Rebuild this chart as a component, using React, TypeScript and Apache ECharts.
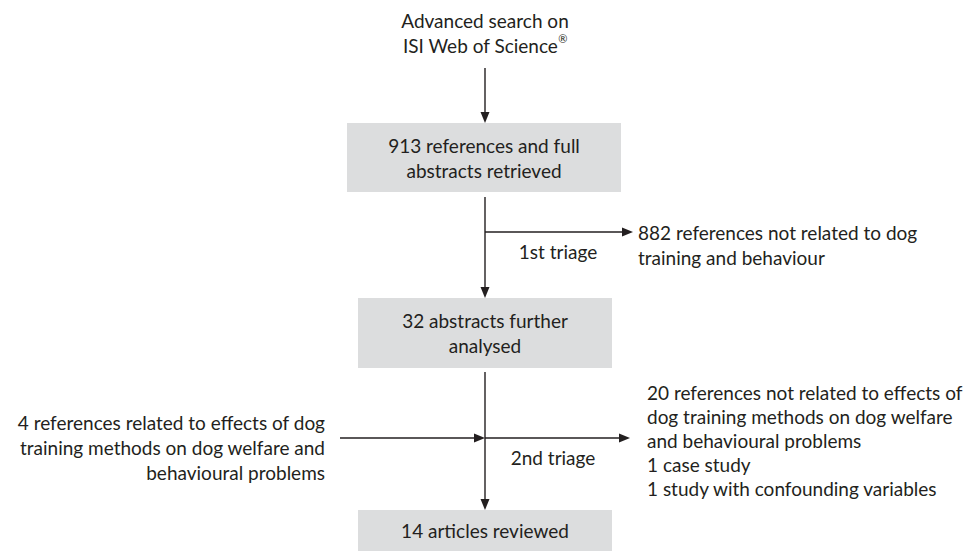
import React, { useEffect, useRef } from "react";
import * as echarts from "echarts";

// ---- chart content (texts) ----
const sourceLabel = "Advanced search on\nISI Web of Science{sup|®}";
const boxLabels = [
  "913 references and full\nabstracts retrieved",
  "32 abstracts further\nanalysed",
  "14 articles reviewed",
];
const triageLabels = ["1st triage", "2nd triage"];
const excludedNotes = [
  "882 references not related to dog\ntraining and behaviour",
  "20 references not related to effects of\ndog training methods on dog welfare\nand behavioural problems\n1 case study\n1 study with confounding variables",
];
const addedNote =
  "4 references related to effects of dog\ntraining methods on dog welfare and\nbehavioural problems";

// ---- layout (page coordinates on a hidden 971 x 551 grid) ----
const W = 971;
const H = 551;
const boxLayout = [
  [347, 123, 621, 192],
  [358, 298, 612, 368],
  [358, 510, 612, 551],
];
const arrowLayout = [
  [485, 68, 485, 123],
  [485, 197, 485, 298],
  [485, 232, 633, 232],
  [485, 372, 485, 510],
  [340, 438, 485, 438],
  [485, 438, 630, 438],
];

const FONT_FAMILY = "Lato, 'Open Sans', sans-serif";
const FONT_SIZE = 19;
const LINE_H = 25;
const TEXT_COLOR = "#231f20";
const BOX_COLOR = "#dcddde";

type Note = { x: number; y: number; align: string; text: string; lh?: number };
const notes: Note[] = [
  { x: 485, y: 33, align: "center", text: sourceLabel },
  { x: 558, y: 251, align: "center", text: triageLabels[0] },
  { x: 638, y: 245, align: "left", text: excludedNotes[0] },
  { x: 553, y: 457, align: "center", text: triageLabels[1] },
  { x: 325, y: 447, align: "right", text: addedNote },
  { x: 647, y: 440, align: "left", text: excludedNotes[1], lh: 24 },
];

export default function App() {
  const ref = useRef<HTMLDivElement>(null);
  useEffect(() => {
    document.body.style.margin = "0";
    const chart = echarts.init(ref.current!, null, { renderer: "svg" });
    const textStyle = (text: string, x: number, y: number, align: string, lh = LINE_H) => ({
      text,
      x,
      y,
      align,
      verticalAlign: "middle",
      fontSize: FONT_SIZE,
      fontFamily: FONT_FAMILY,
      lineHeight: lh,
      fill: TEXT_COLOR,
      rich: {
        sup: {
          fontSize: 11,
          fontFamily: FONT_FAMILY,
          fill: TEXT_COLOR,
          verticalAlign: "top",
          padding: [0, 0, 8, 0],
          lineHeight: lh,
        },
      },
    });
    chart.setOption({
      animation: false,
      backgroundColor: "#ffffff",
      grid: { left: 0, right: 0, top: 0, bottom: 0 },
      xAxis: { type: "value", min: 0, max: W, show: false },
      yAxis: { type: "value", min: 0, max: H, inverse: true, show: false },
      series: [
        {
          type: "custom",
          name: "boxes",
          clip: false,
          data: boxLayout.map((b, i) => [...b, i]),
          renderItem: (_p: any, api: any) => {
            const a = api.coord([api.value(0), api.value(1)]);
            const b = api.coord([api.value(2), api.value(3)]);
            const idx = api.value(4);
            return {
              type: "group",
              children: [
                {
                  type: "rect",
                  shape: { x: a[0], y: a[1], width: b[0] - a[0], height: b[1] - a[1] },
                  style: { fill: BOX_COLOR },
                },
                {
                  type: "text",
                  style: textStyle(boxLabels[idx], (a[0] + b[0]) / 2, (a[1] + b[1]) / 2, "center"),
                },
              ],
            };
          },
        },
        {
          type: "custom",
          name: "arrows",
          clip: false,
          data: arrowLayout,
          renderItem: (_p: any, api: any) => {
            const p1 = api.coord([api.value(0), api.value(1)]);
            const p2 = api.coord([api.value(2), api.value(3)]);
            const dx = p2[0] - p1[0];
            const dy = p2[1] - p1[1];
            const len = Math.sqrt(dx * dx + dy * dy) || 1;
            const ux = dx / len;
            const uy = dy / len;
            const hl = 11;
            const hw = 4.5;
            const bx = p2[0] - ux * hl;
            const by = p2[1] - uy * hl;
            return {
              type: "group",
              children: [
                {
                  type: "line",
                  shape: { x1: p1[0], y1: p1[1], x2: bx + ux * 2, y2: by + uy * 2 },
                  style: { stroke: TEXT_COLOR, lineWidth: 1.4 },
                },
                {
                  type: "polygon",
                  shape: {
                    points: [
                      [p2[0], p2[1]],
                      [bx - uy * hw, by + ux * hw],
                      [bx + uy * hw, by - ux * hw],
                    ],
                  },
                  style: { fill: TEXT_COLOR },
                },
              ],
            };
          },
        },
        {
          type: "custom",
          name: "notes",
          clip: false,
          data: notes.map((n, i) => [n.x, n.y, i]),
          renderItem: (_p: any, api: any) => {
            const p = api.coord([api.value(0), api.value(1)]);
            const n = notes[api.value(2)];
            return { type: "text", style: textStyle(n.text, p[0], p[1], n.align, n.lh) };
          },
        },
      ],
    });
    return () => chart.dispose();
  }, []);
  return <div ref={ref} style={{ width: W, height: H }} />;
}
